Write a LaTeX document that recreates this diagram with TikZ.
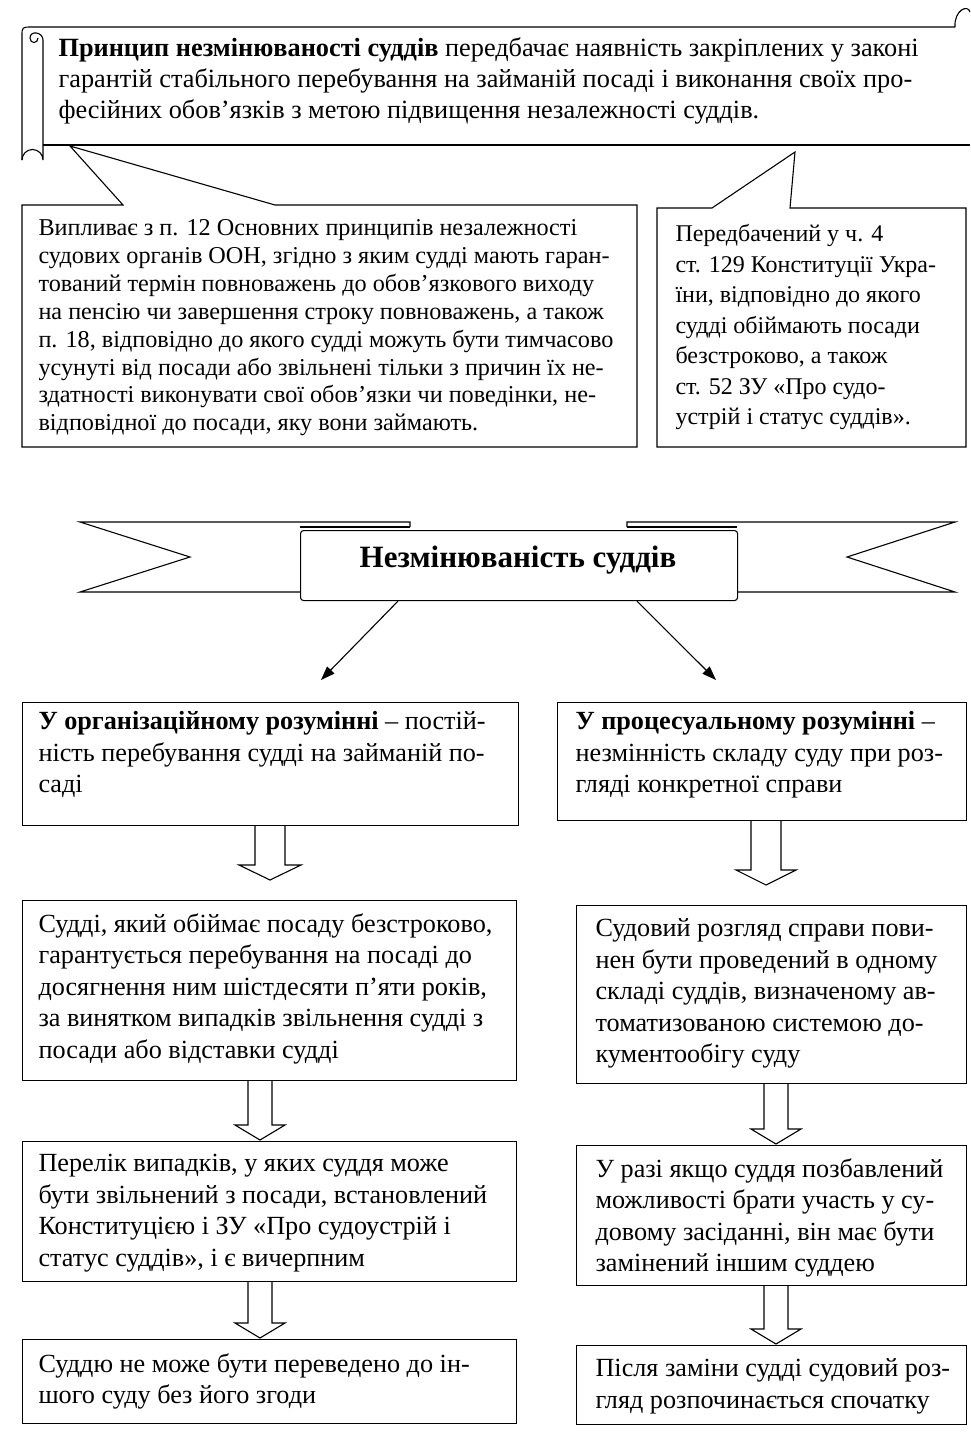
\documentclass[tikz,border=0pt]{standalone}
\usepackage{fontspec}
\setmainfont{Liberation Serif}
\usetikzlibrary{arrows.meta,calc}
\newcommand\blockarrowdown[6]{% x, from, to, gap, shaft half, head half
  \draw[line width=1.1pt] let \p1=(#2.south), \p2=(#3.north) in
   (#1pt-#5pt,\y1) -- (#1pt-#5pt,\y2+#4pt+15pt) -- (#1pt-#6pt,\y2+#4pt+15pt)
   -- (#1pt,\y2+#4pt) -- (#1pt+#6pt,\y2+#4pt+15pt) -- (#1pt+#5pt,\y2+#4pt+15pt)
   -- (#1pt+#5pt,\y1);}
\begin{document}
\begin{tikzpicture}[x=1pt,y=-1pt,line width=1.1pt,
  box/.style={draw,line width=1.1pt,anchor=north west,inner sep=0pt},
  txtA/.style={anchor=north west,align=left,inner sep=0pt,font=\fontsize{24.2}{27.9}\selectfont},
  txtR/.style={anchor=north west,align=left,inner sep=0pt,font=\fontsize{24}{30.5}\selectfont},
  txtB/.style={anchor=north west,align=left,inner sep=0pt,font=\fontsize{26.2}{31.5}\selectfont},
  arr/.style={line width=1.1pt,-{Triangle[length=14pt,width=10pt]}}]
\useasboundingbox (0,0) rectangle (970,1436);
\fill[white] (0,0) rectangle (970,1436);

% scroll
\draw (22,160) -- (22,36) .. controls (22,27) .. (32,27) -- (955,27);
\draw (43,145) -- (43,160) arc (0:-180:10.5);
\draw (43,145) -- (43,40) .. controls (43,32) and (30,30) .. (30,38) .. controls (30,44) and (38,44) .. (38,38);
\draw (43,145) -- (970,145);
\draw (955,27) .. controls (954,10) and (968,4) .. (970,12);
\node[txtA,font=\fontsize{26.3}{31}\selectfont] (S) at (58,37) {\textbf{Принцип незмінюваності суддів} передбачає наявність закріплених у законі\\
гарантій стабільного перебування на займаній посаді і виконання своїх про-\\
фесійних обов’язків з метою підвищення незалежності суддів.};

% callouts
\draw (22,205) -- (123,205) -- (70,146) -- (275,205) -- (637,205) -- (637,447) -- (22,447) -- cycle;
\draw (657,208) -- (712,208) -- (795,152) -- (790,208) -- (966,208) -- (966,447) -- (657,447) -- cycle;
\node[txtA] (L0t) at (38,219) {Випливає з п. 12 Основних принципів незалежності\\
судових органів ООН, згідно з яким судді мають гаран-\\
тований термін повноважень до обов’язкового виходу\\
на пенсію чи завершення строку повноважень, а також\\
п. 18, відповідно до якого судді можуть бути тимчасово\\
усунуті від посади або звільнені тільки з причин їх не-\\
здатності виконувати свої обов’язки чи поведінки, не-\\
відповідної до посади, яку вони займають.};
\node[txtR] (R0t) at (675,224) {Передбачений у ч. 4\\
ст. 129 Конституції Укра-\\
їни, відповідно до якого\\
судді обіймають посади\\
безстроково, а також\\
ст. 52 ЗУ «Про судо-\\
устрій і статус суддів».};

% ribbon
\draw (410,527) -- (410,522) -- (80,522) -- (190,557) -- (80,592) -- (300,592);
\draw (300,527) -- (410,527);
\draw (627,527) -- (627,522) -- (955,522) -- (847,557) -- (955,592) -- (737,592);
\draw (627,527) -- (737,527);
\node[box,fill=white,rounded corners=3pt,minimum width=437pt,minimum height=70pt] (C) at (300,530) {};
\node[font=\bfseries\fontsize{31}{34}\selectfont] (Ct) at (518,560) {Незмінюваність суддів};
\coordinate (a1) at (321,680);
\coordinate (a2) at (716,680);
\draw[arr] ([xshift=98pt]C.south west) -- (a1);
\draw[arr] ([xshift=337pt]C.south west) -- (a2);

% left column
\node[box,minimum width=496pt,minimum height=123pt] (L1) at (22,702) {};
\node[txtB] (L1t) at (38,711) {\textbf{У організаційному розумінні} – постій-\\
ність перебування судді на займаній по-\\
саді};
\node[box,minimum width=494pt,minimum height=180pt] (L2) at (22,900) {};
\node[txtB] (L2t) at (38,913) {Судді, який обіймає посаду безстроково,\\
гарантується перебування на посаді до\\
досягнення ним шістдесяти п’яти років,\\
за винятком випадків звільнення судді з\\
посади або відставки судді};
\node[box,minimum width=494pt,minimum height=140pt] (L3) at (22,1141) {};
\node[txtB] (L3t) at (38,1154) {Перелік випадків, у яких суддя може\\
бути звільнений з посади, встановлений\\
Конституцією і ЗУ «Про судоустрій і\\
статус суддів», і є вичерпним};
\node[box,minimum width=494pt,minimum height=84pt] (L4) at (22,1339) {};
\node[txtB] (L4t) at (38,1353) {Суддю не може бути переведено до ін-\\
шого суду без його згоди};

% right column
\node[box,minimum width=409pt,minimum height=118pt] (R1) at (557,702) {};
\node[txtB] (R1t) at (575,711) {\textbf{У процесуальному розумінні} –\\
незмінність складу суду при роз-\\
гляді конкретної справи};
\node[box,minimum width=390pt,minimum height=178pt] (R2) at (576,905) {};
\node[txtB] (R2t) at (595,918) {Судовий розгляд справи пови-\\
нен бути проведений в одному\\
складі суддів, визначеному ав-\\
томатизованою системою до-\\
кументообігу суду};
\node[box,minimum width=390pt,minimum height=140pt] (R3) at (576,1145) {};
\node[txtB] (R3t) at (595,1158) {У разі якщо суддя позбавлений\\
можливості брати участь у су-\\
довому засіданні, він має бути\\
замінений іншим суддею};
\node[box,minimum width=390pt,minimum height=79pt] (R4) at (576,1345) {};
\node[txtB] (R4t) at (595,1358) {Після заміни судді судовий роз-\\
гляд розпочинається спочатку};

% block arrows
\blockarrowdown{270}{L1}{L2}{20}{15}{31}
\blockarrowdown{766}{R1}{R2}{20}{15}{30}
\blockarrowdown{260}{L2}{L3}{1}{12}{25}
\blockarrowdown{776}{R2}{R3}{1}{12}{25}
\blockarrowdown{260}{L3}{L4}{1}{12}{25}
\blockarrowdown{776}{R3}{R4}{1}{12}{25}
\end{tikzpicture}
\end{document}
